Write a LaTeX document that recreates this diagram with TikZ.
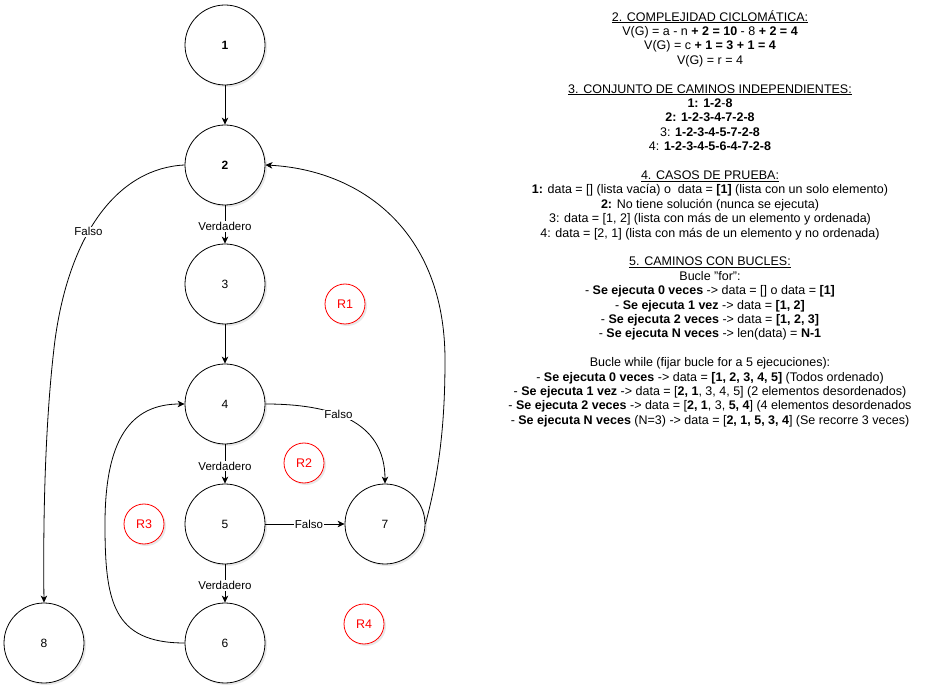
\documentclass[tikz,border=0pt]{standalone}
\usepackage{fontspec}
\setmainfont{Liberation Sans}
\usetikzlibrary{arrows.meta,shadows}
\begin{document}
\begin{tikzpicture}[x=1pt,y=-1pt,
  every node/.style={font=\fontsize{12}{14.4}\selectfont},
  state/.style={circle,draw=black,line width=0.8pt,fill=white,minimum size=80pt,inner sep=0pt,
    drop shadow={opacity=0.18,shadow xshift=2pt,shadow yshift=-2pt}},
  region/.style={circle,draw=red,line width=0.8pt,fill=white,text=red,minimum size=40pt,inner sep=0pt,
    drop shadow={opacity=0.18,shadow xshift=2pt,shadow yshift=-2pt}},
  edge/.style={line width=0.8pt,-{Stealth[length=7pt,width=6.5pt,inset=2pt]}},
  elabel/.style={fill=white,inner sep=1pt,font=\fontsize{11.5}{13}\selectfont}]
\useasboundingbox (0,0) rectangle (927,692);

\node[state] (n1) at (225,45) {\textbf{1}};
\node[state] (n2) at (225,165) {\textbf{2}};
\node[state] (n3) at (225,284) {3};
\node[state] (n4) at (225,404) {4};
\node[state] (n5) at (225,524) {5};
\node[state] (n6) at (225,643) {6};
\node[state] (n7) at (385,524) {7};
\node[state] (n8) at (44,643) {8};

\node[region,font=\fontsize{12.5}{14}\selectfont] (r1) at (345,304) {R1};
\node[region,font=\fontsize{12.5}{14}\selectfont] (r2) at (304,463) {R2};
\node[region,font=\fontsize{12.5}{14}\selectfont] (r3) at (144,524) {R3};
\node[region,font=\fontsize{12.5}{14}\selectfont] (r4) at (364,624) {R4};

\draw[edge] (n1) -- (n2);
\draw[edge] (n2) -- node[elabel,pos=0.55] (l23) {Verdadero} (n3);
\draw[edge] (n3) -- (n4);
\draw[edge] (n4) -- node[elabel,pos=0.55] (l45) {Verdadero} (n5);
\draw[edge] (n5) -- node[elabel,pos=0.55] (l56) {Verdadero} (n6);
\draw[edge] (n5) -- node[elabel,pos=0.55] (l57) {Falso} (n7);
\draw[edge] (n4.east) .. controls (330,404) and (385,420) .. node[elabel,pos=0.42] (l47) {Falso} (n7.north);
\draw[edge] (n7.east) .. controls (440,470) and (445,420) .. (445,360) .. controls (445,230) and (360,170) .. (n2.east);
\draw[edge] (n2.west) .. controls (120,168) and (70,230) .. node[elabel,pos=0.6] (l28) {Falso} (55,340) .. controls (45,420) and (43,520) .. (n8.north);
\draw[edge] (n6.west) .. controls (112,643) and (105,600) .. (105,524) .. controls (105,440) and (130,404) .. (n4.west);

\node[align=center,anchor=north,inner sep=0pt,font=\fontsize{12.5}{14.4}\selectfont] (txt) at (710,10) {%
\underline{2. COMPLEJIDAD CICLOMÁTICA:}\\
V(G) = a - n \textbf{+ 2 = 10} - 8 \textbf{+ 2 = 4}\\
V(G) = c \textbf{+ 1 = 3 + 1 = 4}\\
V(G) = r = 4\\[14.4pt]
\underline{3. CONJUNTO DE CAMINOS INDEPENDIENTES:}\\
\textbf{1: 1-2}-\textbf{8}\\
\textbf{2: 1-2-3-4-7-2-8}\\
3: \textbf{1-2-3-4-5-7-2-8}\\
4: \textbf{1-2-3-4-5-6-4-7-2-8}\\[14.4pt]
\underline{4. CASOS DE PRUEBA:}\\
\textbf{1:} data = [] (lista vacía) o\ \ data = \textbf{[1]} (lista con un solo elemento)\\
\textbf{2:} No tiene solución (nunca se ejecuta)\\
3: data = [1, 2] (lista con más de un elemento y ordenada)\\
4: data = [2, 1] (lista con más de un elemento y no ordenada)\\[14.4pt]
\underline{5. CAMINOS CON BUCLES:}\\
Bucle "for":\\
- \textbf{Se ejecuta 0 veces} -> data = [] o data = \textbf{[1]}\\
- \textbf{Se ejecuta 1 vez} -> data = \textbf{[1, 2]}\\
- \textbf{Se ejecuta 2 veces} -> data = \textbf{[1, 2, 3]}\\
- \textbf{Se ejecuta N veces} -> len(data) = \textbf{N-1}\\[14.4pt]
Bucle while (fijar bucle for a 5 ejecuciones):\\
- \textbf{Se ejecuta 0 veces} -> data = \textbf{[1, 2, 3, 4, 5]} (Todos ordenado)\\
- \textbf{Se ejecuta 1 vez} -> data = [\textbf{2, 1}, 3, 4, 5] (2 elementos desordenados)\\
- \textbf{Se ejecuta 2 veces} -> data = [\textbf{2, 1}, 3, \textbf{5, 4}] (4 elementos desordenados\\
- \textbf{Se ejecuta N veces} (N=3) -> data = [\textbf{2, 1, 5, 3, 4}] (Se recorre 3 veces)};
\end{tikzpicture}
\end{document}
